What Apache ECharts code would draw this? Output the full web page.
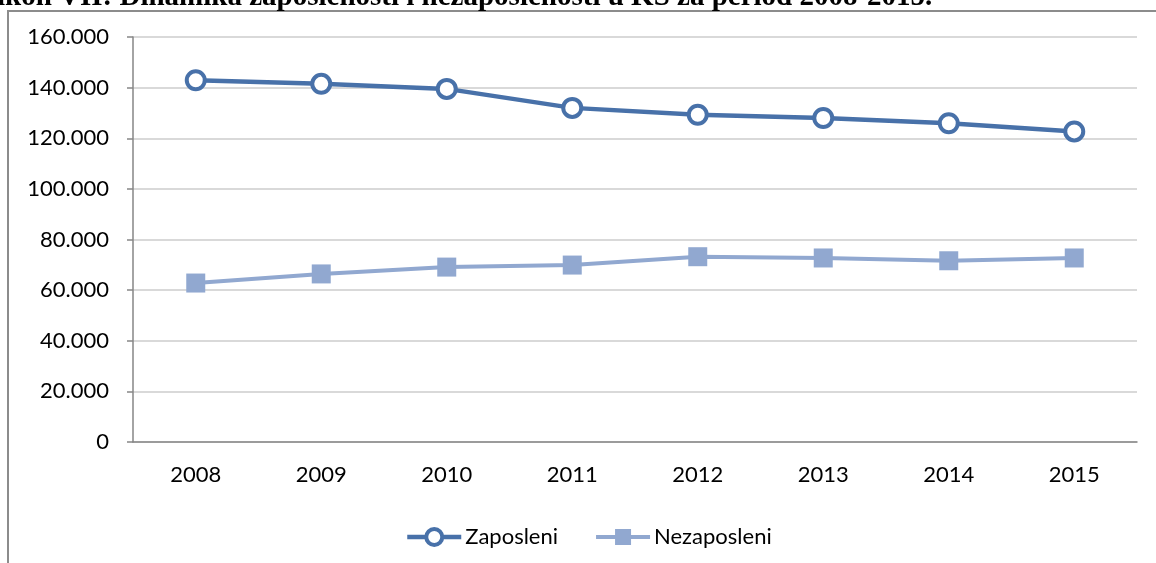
<!DOCTYPE html>
<html>
<head>
<meta charset="utf-8">
<title>Dinamika zaposlenosti</title>
<script src="https://cdn.jsdelivr.net/npm/echarts@6/dist/echarts.min.js"></script>
<style>
  html, body { margin: 0; padding: 0; background: #fff; }
  #chart { width: 1156px; height: 563px; }
</style>
</head>
<body>
<div id="chart"></div>
<script>
const years = ["2008", "2009", "2010", "2011", "2012", "2013", "2014", "2015"];
const zaposleni = [142900, 141500, 139500, 132000, 129300, 128000, 125900, 122700];
const nezaposleni = [62800, 66400, 69100, 69900, 73200, 72700, 71600, 72700];
const yTicks = { min: 0, max: 160000, interval: 20000 };
const titleText = "ikon VII: Dinamika zaposlenosti i nezaposlenosti u KS za period 2008-2015.";

const chart = echarts.init(document.getElementById("chart"));

// 160000 -> "160.000"
function fmt(v) {
  return String(v).replace(/\B(?=(\d{3})+(?!\d))/g, ".");
}

const labelFont = "Lato";
const darkBlue = "#4871a9";
const lightBlue = "#91a8d0";

const option = {
  animation: false,
  textStyle: { fontFamily: labelFont },
  graphic: [
    {
      type: "rect",
      shape: { x: 8, y: 11, width: 1300, height: 700 },
      style: { fill: "none", stroke: "#8c8c8c", lineWidth: 2 },
      silent: true,
    },
    {
      type: "text",
      left: -3,
      top: -17,
      style: {
        text: titleText,
        font: "bold 29px 'Liberation Serif'",
        fill: "#000",
      },
      silent: true,
    },
  ],
  grid: {
    left: 133,
    right: 19,
    top: 37,
    bottom: 121,
  },
  legend: {
    left: 400,
    top: 521,
    itemWidth: 54,
    itemHeight: 20,
    itemGap: 36,
    textStyle: { fontSize: 22, color: "#000", fontFamily: labelFont, padding: [0, 0, 0, -1] },
    data: [
      {
        name: "Zaposleni",
        lineStyle: { width: 4.5 },
        itemStyle: { borderWidth: 4 },
      },
      {
        name: "Nezaposleni",
        lineStyle: { width: 4 },
      },
    ],
  },
  xAxis: {
    type: "category",
    data: years,
    boundaryGap: true,
    axisLine: { lineStyle: { color: "#868686", width: 1.5 } },
    axisTick: { length: 6, lineStyle: { color: "#868686", width: 1.5 } },
    axisLabel: { color: "#000", fontSize: 22, margin: 22 },
  },
  yAxis: {
    type: "value",
    min: yTicks.min,
    max: yTicks.max,
    interval: yTicks.interval,
    axisLine: { show: true, lineStyle: { color: "#868686", width: 1.5 } },
    axisTick: { show: true, length: 6, lineStyle: { color: "#868686", width: 1.5 } },
    axisLabel: { color: "#000", fontSize: 22, margin: 24, formatter: fmt },
    splitLine: { lineStyle: { color: "#d9d9d9", width: 2 } },
  },
  series: [
    {
      name: "Zaposleni",
      type: "line",
      data: zaposleni,
      symbol: "circle",
      symbolSize: 18,
      color: darkBlue,
      lineStyle: { width: 4.5, color: darkBlue },
      itemStyle: { color: "#fff", borderColor: darkBlue, borderWidth: 4 },
    },
    {
      name: "Nezaposleni",
      type: "line",
      data: nezaposleni,
      symbol: "rect",
      symbolSize: 19,
      color: lightBlue,
      lineStyle: { width: 4, color: lightBlue },
      itemStyle: { color: lightBlue },
    },
  ],
};

chart.setOption(option);
</script>
</body>
</html>
